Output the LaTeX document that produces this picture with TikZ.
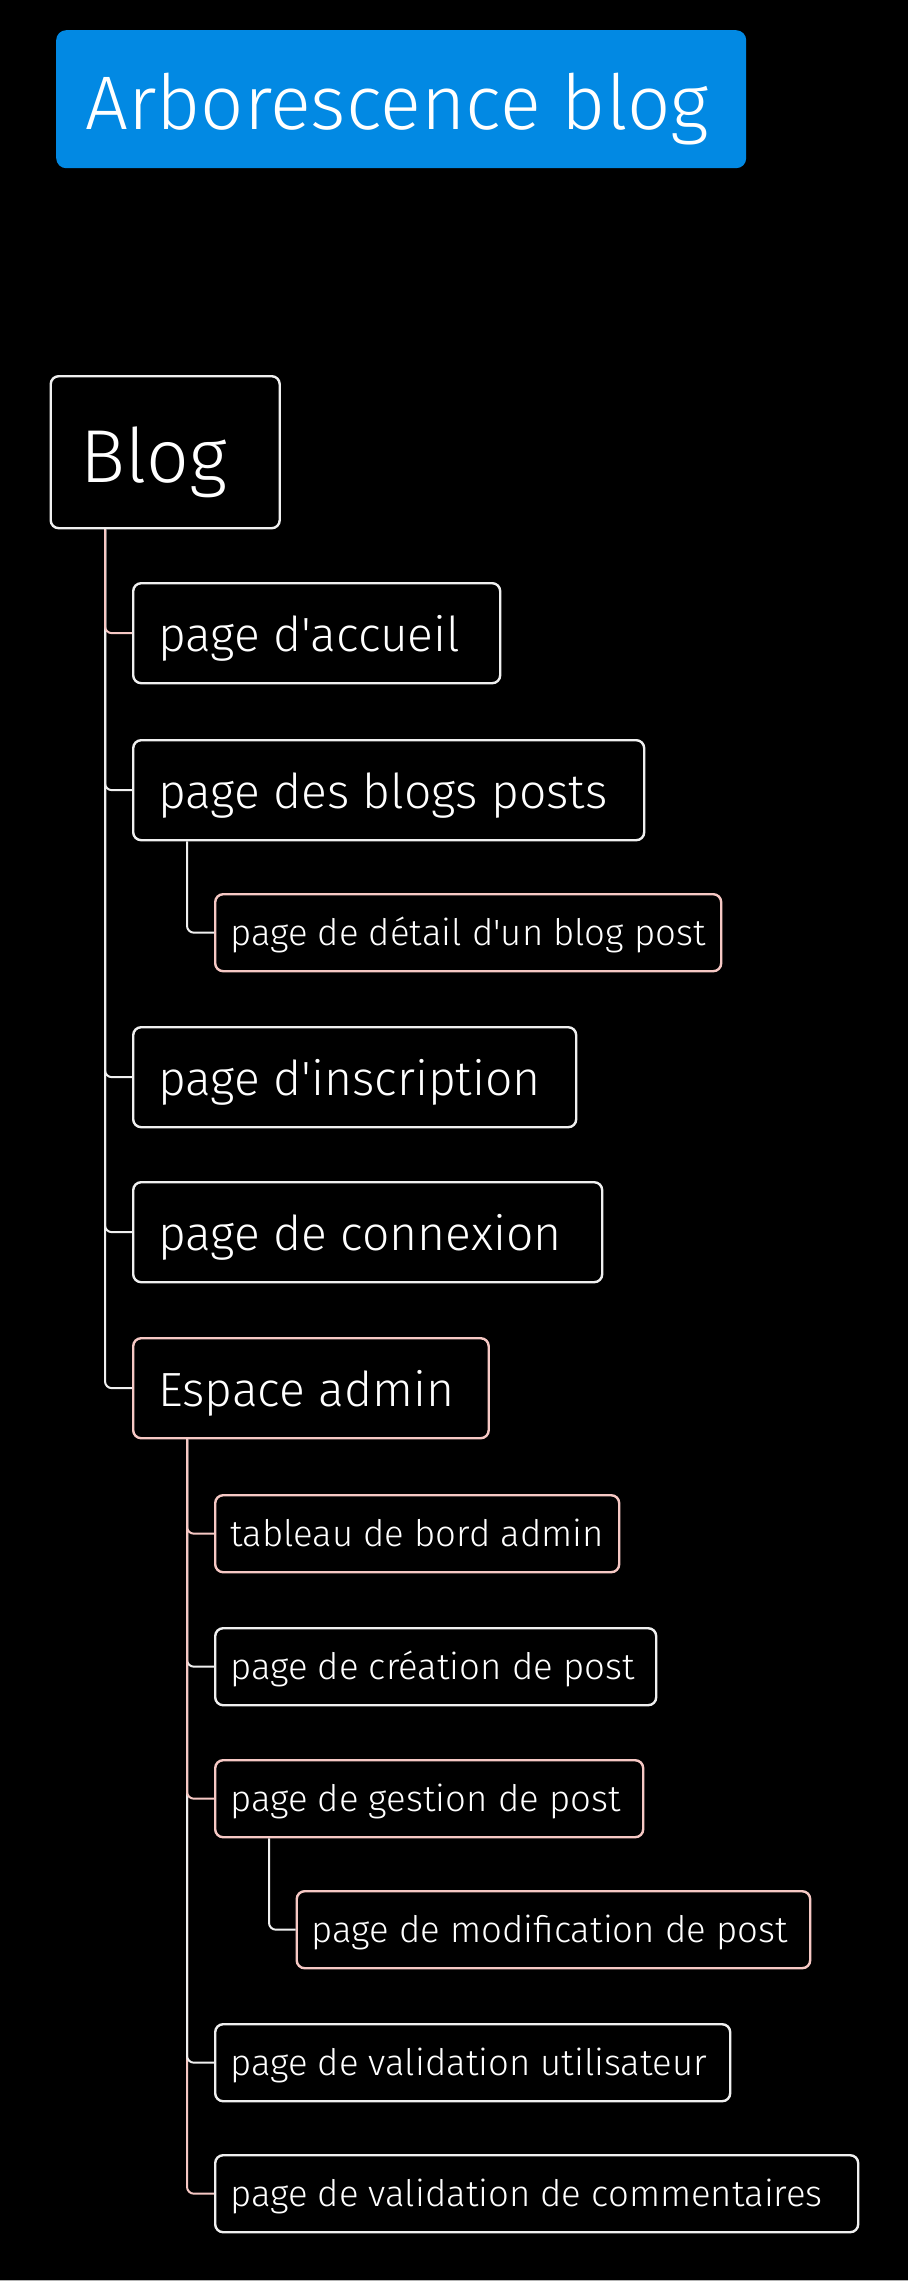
\documentclass[tikz,border=0pt]{standalone}
\usepackage{fontspec}
\IfFontExistsTF{Fira Sans Light}{\setmainfont{Fira Sans Light}[Ligatures=TeXOff]}{%
  \IfFontExistsTF{Lato Light}{\setmainfont{Lato Light}[Ligatures=TeXOff]}{\setmainfont{Fira Sans}[Ligatures=TeXOff]}}
\definecolor{titleblue}{RGB}{2,137,227}
\definecolor{rosy}{RGB}{246,200,196}
\definecolor{paper}{RGB}{240,240,240}
\begin{document}
\begin{tikzpicture}[x=1pt,y=-1pt,
  % every box: left-aligned label of fixed width
  lw/.style={execute at begin node={\hbox to #1\bgroup}, execute at end node={\hfil\egroup}},
  box/.style={anchor=north west, line width=2.4pt, rounded corners=8pt, inner ysep=0pt, text=white},
  wbox/.style={box, draw=paper},
  pbox/.style={box, draw=rosy},
  title/.style={box, fill=titleblue, rounded corners=10pt, inner xsep=29pt,
    font=\fontsize{76}{90}\selectfont, text height=63pt, text depth=2pt, minimum height=138pt},
  root/.style={wbox, inner xsep=30pt, font=\fontsize{75}{89}\selectfont,
    text height=62pt, text depth=2pt, minimum height=152pt},
  lvlone/.style={inner xsep=25pt, font=\fontsize{48}{57}\selectfont,
    text height=38.4pt, text depth=2.4pt, minimum height=100pt},
  lvltwo/.style={inner xsep=15pt, font=\fontsize{36.5}{43}\selectfont,
    text height=28pt, text depth=2pt, minimum height=77pt},
  link/.style={line width=2pt, rounded corners=7pt},
  wlink/.style={link, draw=paper},
  plink/.style={link, draw=rosy}]

\fill[black] (0,0) rectangle (908,2281);
\useasboundingbox (0,0) rectangle (908,2281);
\draw[gray!60, line width=1pt] (0,2280.5) -- (908,2280.5);

\node[title, lw=632pt] (head) at (55,29) {Arborescence blog};

\node[root, lw=169pt] (blog) at (49.5,375) {Blog};

% first level
\node[wbox, lvlone, lw=317pt] (acc) at (132,582) {page d'accueil};
\node[wbox, lvlone, lw=461pt] (posts) at (132,739) {page des blogs posts};
\node[pbox, lvltwo, lw=476pt] (detail) at (214,893) {page de détail d'un blog post};
\node[wbox, lvlone, lw=393pt] (inscr) at (132,1026) {page d'inscription};
\node[wbox, lvlone, lw=419pt] (conn) at (132,1181) {page de connexion};
\node[pbox, lvlone, lw=305.5pt] (admin) at (132,1337) {Espace admin};

% admin area
\node[pbox, lvltwo, lw=374pt] (dash) at (214,1494) {tableau de bord admin};
\node[wbox, lvltwo, lw=411pt] (create) at (214,1627) {page de création de post};
\node[pbox, lvltwo, lw=398pt] (manage) at (214,1759) {page de gestion de post};
\node[pbox, lvltwo, lw=483.5pt] (edit) at (295.5,1890) {page de modification de post};
\node[wbox, lvltwo, lw=485pt] (users) at (214,2023) {page de validation utilisateur};
\node[wbox, lvltwo, lw=613pt] (comments) at (214,2154) {page de validation de commentaires};

% connectors from Blog
\draw[wlink] ([xshift=55.5pt]blog.south west) |- (admin.west);
\draw[wlink] ([xshift=55.5pt]blog.south west) |- (conn.west);
\draw[wlink] ([xshift=55.5pt]blog.south west) |- (inscr.west);
\draw[wlink] ([xshift=55.5pt]blog.south west) |- (posts.west);
\draw[plink] ([xshift=55.5pt]blog.south west) |- (acc.west);

% connector under the posts page
\draw[wlink] ([xshift=55pt]posts.south west) |- (detail.west);

% connectors from the admin area
\draw[wlink] ([xshift=55pt]admin.south west) |- (create.west);
\draw[plink] ([xshift=55pt]admin.south west) |- (comments.west);
\draw[wlink] ([xshift=55pt]admin.south west) |- (users.west);
\draw[plink] ([xshift=55pt]admin.south west) |- (manage.west);
\draw[plink] ([xshift=55pt]admin.south west) |- (dash.west);

% connector under the post management page
\draw[wlink] ([xshift=55pt]manage.south west) |- (edit.west);
\end{tikzpicture}
\end{document}
